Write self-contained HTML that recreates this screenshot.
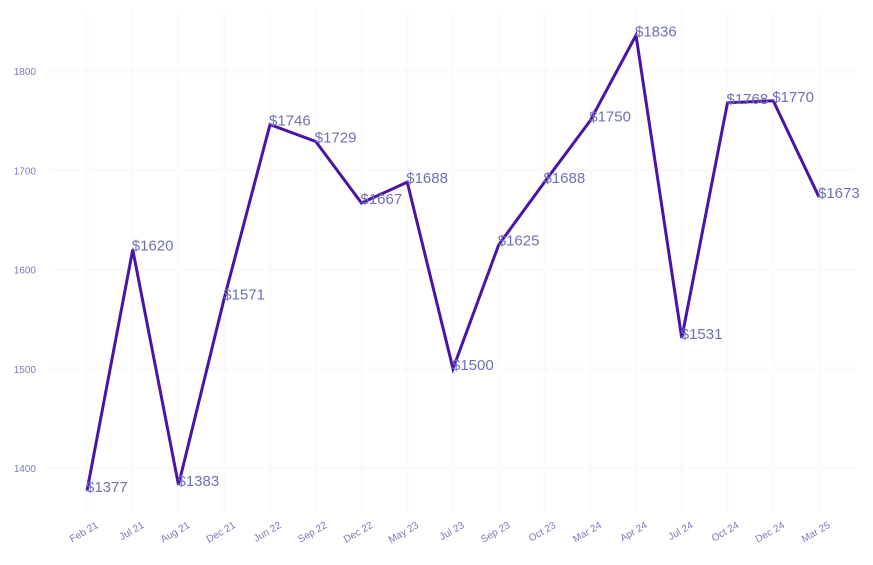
<!DOCTYPE html>
<html><head><meta charset="utf-8"><style>
body{margin:0;background:#fff}
svg{display:block;font-family:"Liberation Sans",sans-serif}
</style></head><body>
<svg id="chart" width="873" height="565"></svg>
<script>
const categories=["Feb 21","Jul 21","Aug 21","Dec 21","Jun 22","Sep 22","Dec 22","May 23","Jul 23","Sep 23","Oct 23","Mar 24","Apr 24","Jul 24","Oct 24","Dec 24","Mar 25"];
const values=[1377,1620,1383,1571,1746,1729,1667,1688,1500,1625,1688,1750,1836,1531,1768,1770,1673];
const yTicks=[1400,1500,1600,1700,1800];
const NS="http://www.w3.org/2000/svg";
const svg=document.getElementById('chart');
const x0=87,x1=819;
function xs(i){return x0+i*(x1-x0)/(categories.length-1);}
function ys(v){return 468-(v-1400)*(468-71)/400;}
function mk(t,a,p){const e=document.createElementNS(NS,t);for(const k in a)e.setAttribute(k,a[k]);(p||svg).appendChild(e);return e;}
const grid=mk('g',{});


categories.forEach((c,i)=>{
  const l=mk('line',{x1:xs(i),x2:xs(i),y1:12,y2:512,stroke:'#fafaff','stroke-width':3},grid);
  
  
  const tx=xs(i)+12,ty=527;
  const t=mk('text',{x:tx,y:ty,'font-size':10,fill:'#7a7ab8','text-anchor':'end',transform:`rotate(-30 ${tx} ${ty})`});
  t.textContent=c;
  
  
});
yTicks.forEach(v=>{
  const l=mk('line',{x1:50,x2:855,y1:ys(v),y2:ys(v),stroke:'#fafaff','stroke-width':3},grid);
  
  
  const t=mk('text',{x:36,y:ys(v)+4,'font-size':10,fill:'#7a7ab8','text-anchor':'end'});
  t.textContent=v;
  
  
});
const line=mk('polyline',{points:values.map((v,i)=>xs(i)+','+ys(v)).join(' '),fill:'none',stroke:'#4a14a8','stroke-width':3,'stroke-linejoin':'miter'});


values.forEach((v,i)=>{
  const t=mk('text',{x:xs(i)-1,y:ys(v)+1,'font-size':15,fill:'#7070b4'});
  t.textContent='$'+v;
  
  
});
</script>
</body></html>
